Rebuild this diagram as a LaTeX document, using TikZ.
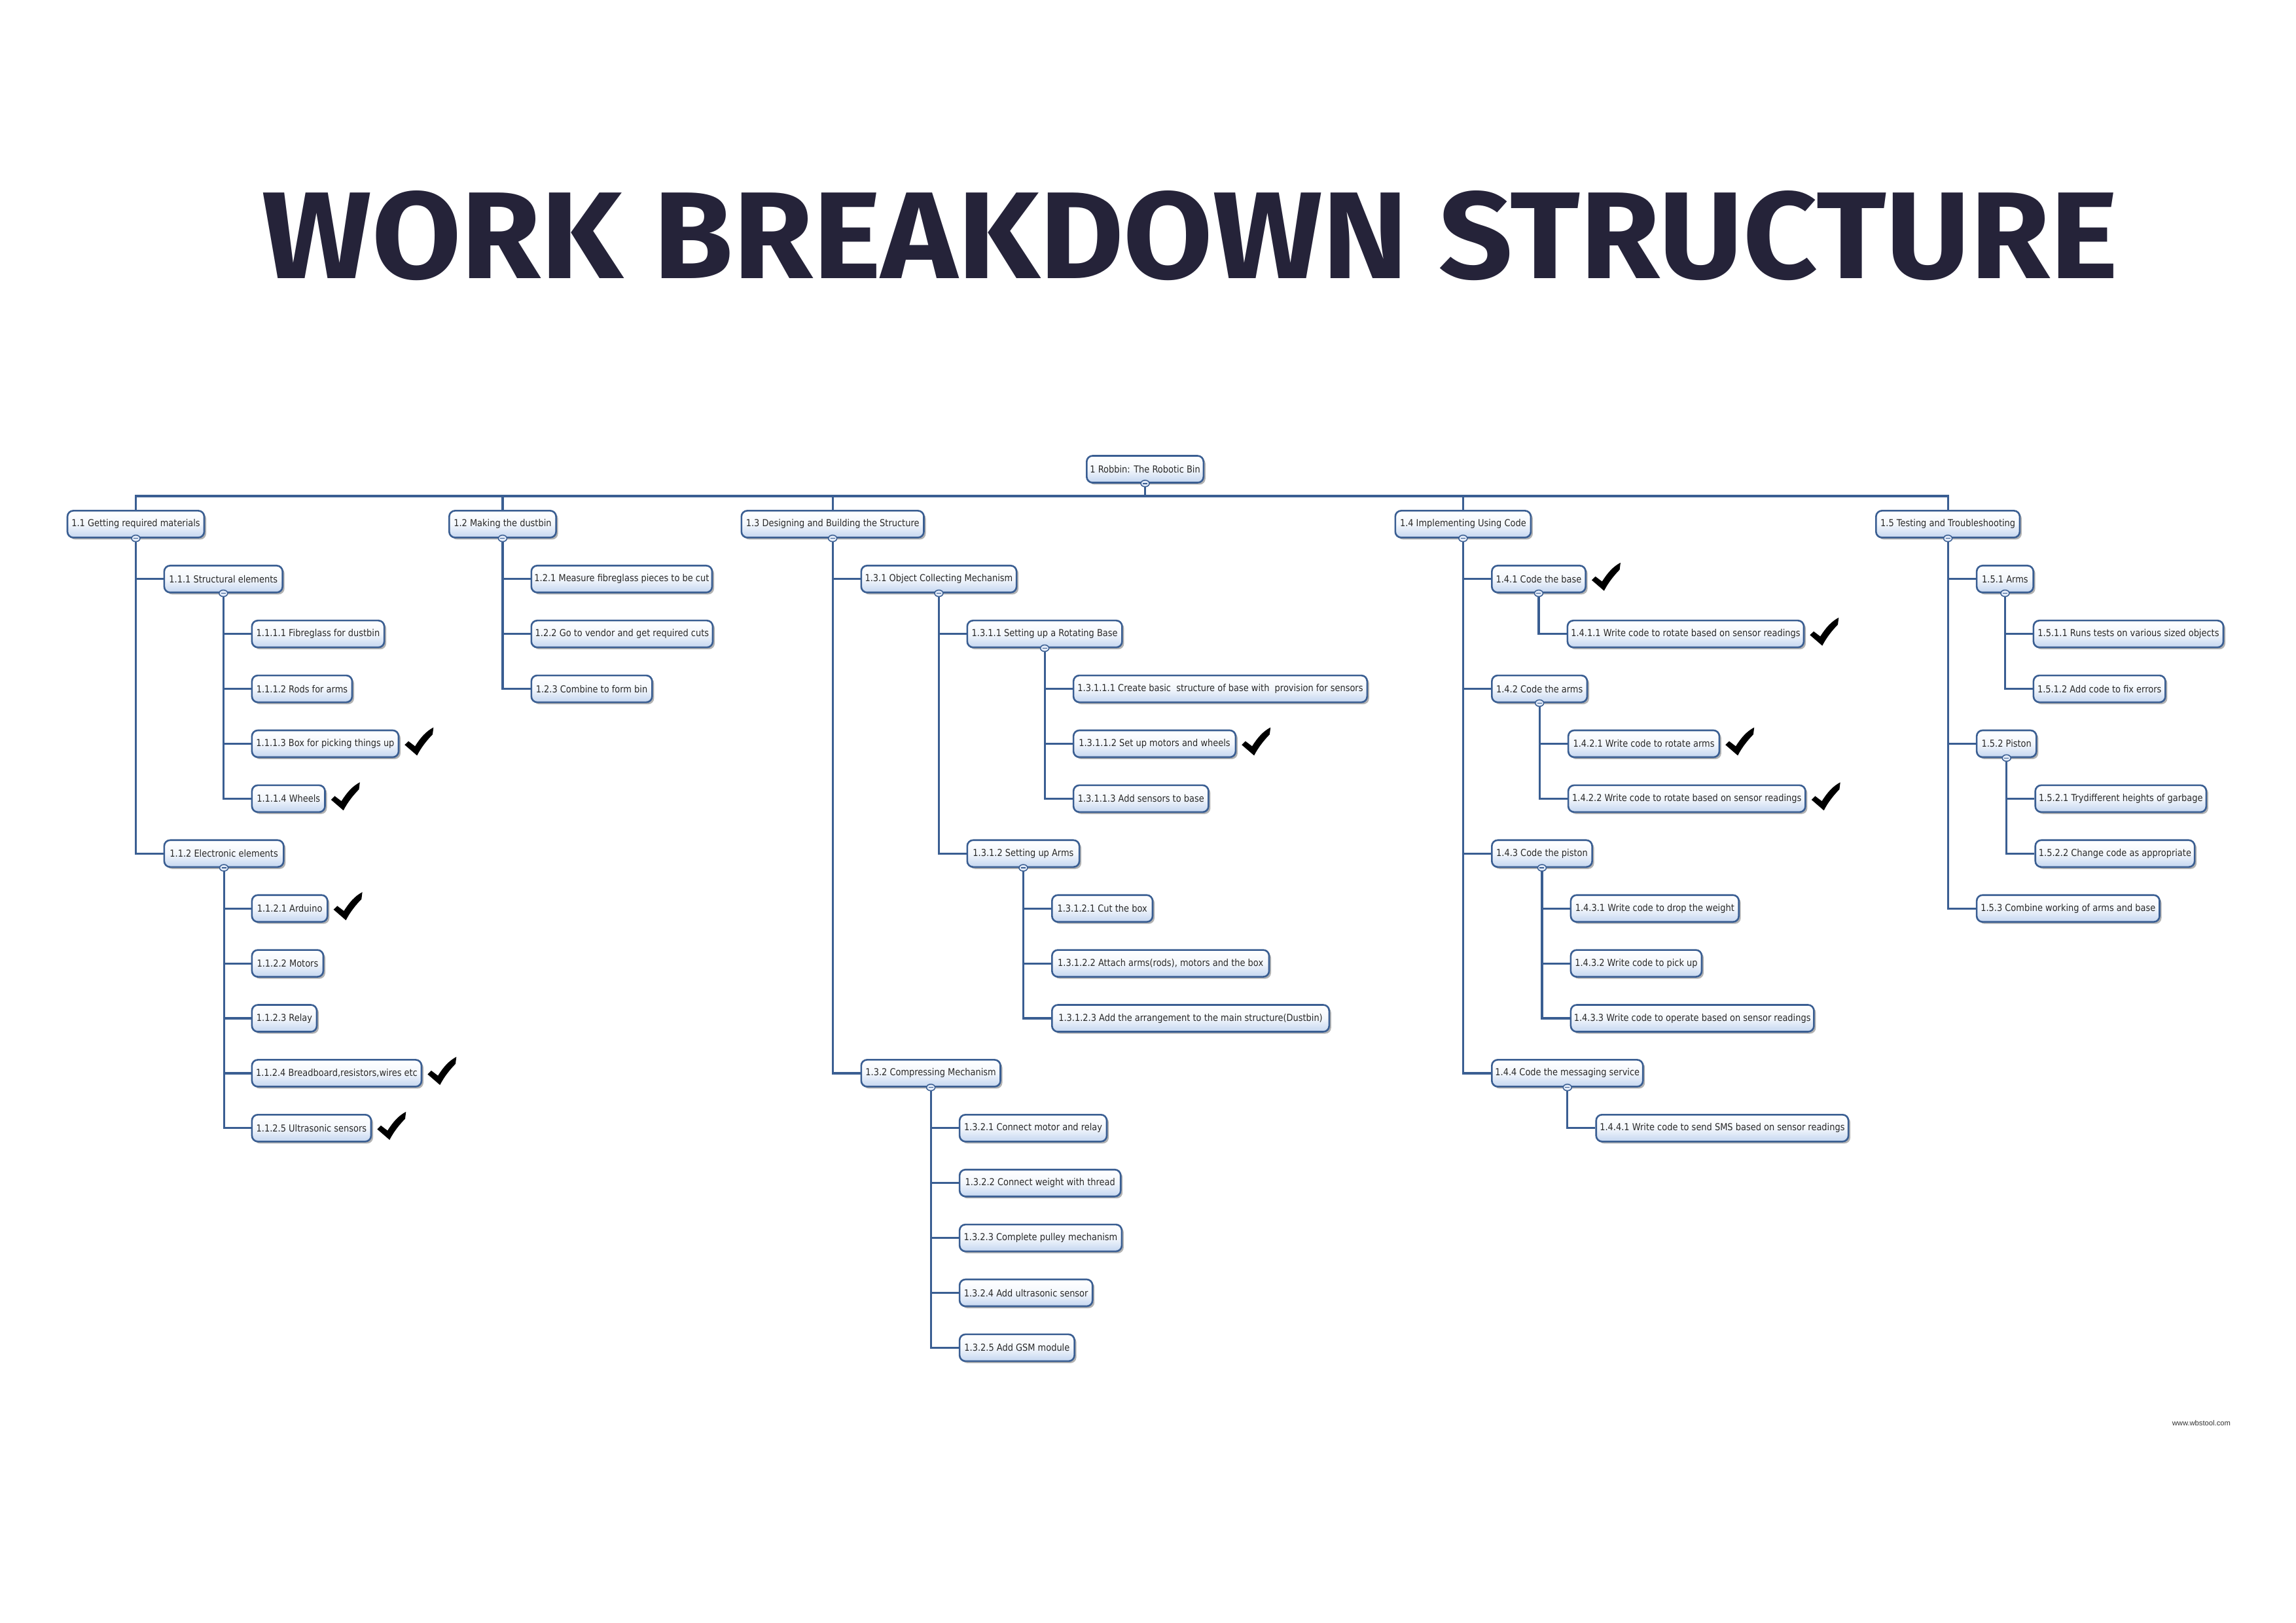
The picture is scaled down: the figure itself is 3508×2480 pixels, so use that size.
\documentclass[tikz,border=0pt]{standalone}
\usepackage{fontspec}
\usepackage{graphicx}
\usetikzlibrary{shadows,shapes.geometric,calc}
\newfontfamily\wbsfamily[FakeStretch=0.88]{DejaVu Sans}
\newfontfamily\titlefamily{Fira Sans}
\newfontfamily\footfamily{Liberation Sans}
\newlength\pxu
\setlength\pxu{0.084664mm}
\newcommand\wbsfont{\wbsfamily\fontsize{3.55pt}{4.2pt}\selectfont}
\definecolor{wbsline}{RGB}{58,94,146}
\definecolor{wbsfill}{RGB}{196,214,240}
\definecolor{wbstext}{RGB}{40,40,40}
\definecolor{titlecol}{RGB}{37,35,57}
\pgfdeclarelayer{paper}
\pgfdeclarelayer{background}
\pgfsetlayers{paper,background,main}
\tikzset{
  wbs/.style={rectangle, rounded corners=9\pxu, draw=wbsline, line width=2.6\pxu,
    top color=white, bottom color=wbsfill, middle color=white!80!wbsfill,
    drop shadow={shadow xshift=3\pxu, shadow yshift=-3\pxu, opacity=0.3, fill=black},
    minimum height=41\pxu, inner sep=0pt, font=\wbsfont, text=wbstext, anchor=west},
  conn/.style={draw=wbsline, line width=3.2\pxu},
  dotn/.style={ellipse, draw=wbsline, line width=1.5\pxu, fill=wbsfill!50,
    minimum width=13\pxu, minimum height=10\pxu, inner sep=0pt,
    path picture={\draw[wbsline, line width=1.5\pxu]
      ([xshift=-3.5\pxu]path picture bounding box.center) --
      ([xshift=3.5\pxu]path picture bounding box.center);}},
  chk/.pic={\fill[black, x=3.7252mm, y=-3.6406mm]
    (0,0.62) -- (0.13,0.49) -- (0.36,0.67)
    .. controls (0.55,0.36) and (0.74,0.14) .. (1.0,0.0)
    -- (0.97,0.25)
    .. controls (0.78,0.45) and (0.58,0.70) .. (0.43,1.0) -- cycle;}
}
\newcommand\wbsnode[5]{\node[wbs, minimum width={(#3-(#2))*0.084664mm}] (#1) at (#2,{717+83.9*#4}) {#5};}
\newcommand\wbsdot[1]{\node[dotn] (d#1) at (#1.south) {};}
\newcommand\wbscheck[1]{\pic at ([xshift=8\pxu,yshift=25\pxu]#1.east) {chk};}

\begin{document}
\begin{tikzpicture}[x=0.084664mm, y=-0.084664mm]
\begin{pgfonlayer}{paper}
\fill[white] (0,0) rectangle (3508,2480);
\end{pgfonlayer}
\useasboundingbox (0,0) rectangle (3508,2480);

% title
\node[anchor=base west, inner sep=0pt, text=titlecol] (title) at (400,426)
  {\resizebox{2835\pxu}{134\pxu}{\titlefamily\bfseries WORK BREAKDOWN STRUCTURE}};

% root
\wbsnode{n1}{1659}{1837.5}{0}{1 Robbin: The Robotic Bin}
% level 1
\wbsnode{n11}{101.7}{310.7}{1}{1.1 Getting required materials}
\wbsnode{n12}{685}{848.3}{1}{1.2 Making the dustbin}
\wbsnode{n13}{1131.5}{1410.2}{1}{1.3 Designing and Building the Structure}
\wbsnode{n14}{2130.5}{2337.6}{1}{1.4 Implementing Using Code}
\wbsnode{n15}{2865}{3084.6}{1}{1.5 Testing and Troubleshooting}

% 1.1
\wbsnode{n111}{249.6}{430.4}{2}{1.1.1 Structural elements}
\wbsnode{n1111}{383.6}{585.8}{3}{1.1.1.1 Fibreglass for dustbin}
\wbsnode{n1112}{383.6}{536.7}{4}{1.1.1.2 Rods for arms}
\wbsnode{n1113}{383.6}{607.7}{5}{1.1.1.3 Box for picking things up}
\wbsnode{n1114}{383.6}{495.2}{6}{1.1.1.4 Wheels}
\wbsnode{n112}{249.6}{432}{7}{1.1.2 Electronic elements}
\wbsnode{n1121}{383.6}{499}{8}{1.1.2.1 Arduino}
\wbsnode{n1122}{383.6}{492.7}{9}{1.1.2.2 Motors}
\wbsnode{n1123}{383.6}{482.7}{10}{1.1.2.3 Relay}
\wbsnode{n1124}{383.6}{642.7}{11}{1.1.2.4 Breadboard,resistors,wires etc}
\wbsnode{n1125}{383.6}{565.7}{12}{1.1.2.5 Ultrasonic sensors}

% 1.2
\wbsnode{n121}{810.5}{1086.7}{2}{1.2.1 Measure fibreglass pieces to be cut}
\wbsnode{n122}{810.5}{1087.7}{3}{1.2.2 Go to vendor and get required cuts}
\wbsnode{n123}{810.5}{995}{4}{1.2.3 Combine to form bin}

% 1.3
\wbsnode{n131}{1314.5}{1551.8}{2}{1.3.1 Object Collecting Mechanism}
\wbsnode{n1311}{1476.5}{1713.1}{3}{1.3.1.1 Setting up a Rotating Base}
\wbsnode{n13111}{1638.8}{2087.5}{4}{1.3.1.1.1 Create basic\ \ structure of base with\ \ provision for sensors}
\wbsnode{n13112}{1638.8}{1886.6}{5}{1.3.1.1.2 Set up motors and wheels}
\wbsnode{n13113}{1638.8}{1845.1}{6}{1.3.1.1.3 Add sensors to base}
\wbsnode{n1312}{1476.5}{1647.8}{7}{1.3.1.2 Setting up Arms}
\wbsnode{n13121}{1606}{1759.7}{8}{1.3.1.2.1 Cut the box}
\wbsnode{n13122}{1606}{1937.7}{9}{1.3.1.2.2 Attach arms(rods), motors and the box}
\wbsnode{n13123}{1606}{2029.5}{10}{1.3.1.2.3 Add the arrangement to the main structure(Dustbin)}
\wbsnode{n132}{1314.5}{1527.2}{11}{1.3.2 Compressing Mechanism}
\wbsnode{n1321}{1464.8}{1689.7}{12}{1.3.2.1 Connect motor and relay}
\wbsnode{n1322}{1464.8}{1710.9}{13}{1.3.2.2 Connect weight with thread}
\wbsnode{n1323}{1464.8}{1712.6}{14}{1.3.2.3 Complete pulley mechanism}
\wbsnode{n1324}{1464.8}{1667.9}{15}{1.3.2.4 Add ultrasonic sensor}
\wbsnode{n1325}{1464.8}{1640.3}{16}{1.3.2.5 Add GSM module}

% 1.4
\wbsnode{n141}{2278}{2421.3}{2}{1.4.1 Code the base}
\wbsnode{n1411}{2393.6}{2754.7}{3}{1.4.1.1 Write code to rotate based on sensor readings}
\wbsnode{n142}{2278}{2423.7}{4}{1.4.2 Code the arms}
\wbsnode{n1421}{2394.8}{2625.6}{5}{1.4.2.1 Write code to rotate arms}
\wbsnode{n1422}{2394.8}{2757.1}{6}{1.4.2.2 Write code to rotate based on sensor readings}
\wbsnode{n143}{2278}{2431.3}{7}{1.4.3 Code the piston}
\wbsnode{n1431}{2398.6}{2655.4}{8}{1.4.3.1 Write code to drop the weight}
\wbsnode{n1432}{2398.6}{2598.7}{9}{1.4.3.2 Write code to pick up}
\wbsnode{n1433}{2398.6}{2770.1}{10}{1.4.3.3 Write code to operate based on sensor readings}
\wbsnode{n144}{2278}{2508.9}{11}{1.4.4 Code the messaging service}
\wbsnode{n1441}{2437.4}{2822.8}{12}{1.4.4.1 Write code to send SMS based on sensor readings}

% 1.5
\wbsnode{n151}{3018.8}{3105.4}{2}{1.5.1 Arms}
\wbsnode{n1511}{3105.6}{3395.7}{3}{1.5.1.1 Runs tests on various sized objects}
\wbsnode{n1512}{3105.6}{3307.1}{4}{1.5.1.2 Add code to fix errors}
\wbsnode{n152}{3018.8}{3110}{5}{1.5.2 Piston}
\wbsnode{n1521}{3108.4}{3369.6}{6}{1.5.2.1 Trydifferent heights of garbage}
\wbsnode{n1522}{3108.4}{3351.8}{7}{1.5.2.2 Change code as appropriate}
\wbsnode{n153}{3018.8}{3298.2}{8}{1.5.3 Combine working of arms and base}

% connectors
\coordinate (bus) at (n1.south |- 0,758);
\begin{pgfonlayer}{background}
\draw[conn] (n1.south) -- (bus);
\draw[conn] (n11.north) |- (n15.north |- bus) -- (n15.north);
\foreach \c in {n12,n13,n14} \draw[conn] (\c.north |- bus) -- (\c.north);
% 1.1
\draw[conn] (n11.south) |- (n112.west);
\draw[conn] (n11.south |- n111.west) -- (n111.west);
\draw[conn] (n111.south) |- (n1114.west);
\foreach \c in {n1111,n1112,n1113} \draw[conn] (n111.south |- \c.west) -- (\c.west);
\draw[conn] (n112.south) |- (n1125.west);
\foreach \c in {n1121,n1122,n1123,n1124} \draw[conn] (n112.south |- \c.west) -- (\c.west);
% 1.2
\draw[conn] (n12.south) |- (n123.west);
\foreach \c in {n121,n122} \draw[conn] (n12.south |- \c.west) -- (\c.west);
% 1.3
\draw[conn] (n13.south) |- (n132.west);
\draw[conn] (n13.south |- n131.west) -- (n131.west);
\draw[conn] (n131.south) |- (n1312.west);
\draw[conn] (n131.south |- n1311.west) -- (n1311.west);
\draw[conn] (n1311.south) |- (n13113.west);
\foreach \c in {n13111,n13112} \draw[conn] (n1311.south |- \c.west) -- (\c.west);
\draw[conn] (n1312.south) |- (n13123.west);
\foreach \c in {n13121,n13122} \draw[conn] (n1312.south |- \c.west) -- (\c.west);
\draw[conn] (n132.south) |- (n1325.west);
\foreach \c in {n1321,n1322,n1323,n1324} \draw[conn] (n132.south |- \c.west) -- (\c.west);
% 1.4
\draw[conn] (n14.south) |- (n144.west);
\foreach \c in {n141,n142,n143} \draw[conn] (n14.south |- \c.west) -- (\c.west);
\draw[conn] (n141.south) |- (n1411.west);
\draw[conn] (n142.south) |- (n1422.west);
\draw[conn] (n142.south |- n1421.west) -- (n1421.west);
\draw[conn] (n143.south) |- (n1433.west);
\foreach \c in {n1431,n1432} \draw[conn] (n143.south |- \c.west) -- (\c.west);
\draw[conn] (n144.south) |- (n1441.west);
% 1.5
\draw[conn] (n15.south) |- (n153.west);
\foreach \c in {n151,n152} \draw[conn] (n15.south |- \c.west) -- (\c.west);
\draw[conn] (n151.south) |- (n1512.west);
\draw[conn] (n151.south |- n1511.west) -- (n1511.west);
\draw[conn] (n152.south) |- (n1522.west);
\draw[conn] (n152.south |- n1521.west) -- (n1521.west);
\end{pgfonlayer}

% collapse markers
\foreach \p in {n1,n11,n12,n13,n14,n15,n111,n112,n131,n1311,n1312,n132,n141,n142,n143,n144,n151,n152}
  {\wbsdot{\p}}

% check marks
\foreach \p in {n1113,n1114,n1121,n1124,n1125,n13112,n141,n1411,n1421,n1422}
  {\wbscheck{\p}}

% footer
\node[anchor=west, inner sep=0pt, font=\footfamily\fontsize{2.7pt}{3.2pt}\selectfont, text=black!80] (foot) at (3318,2174) {www.wbstool.com};
\end{tikzpicture}
\end{document}
